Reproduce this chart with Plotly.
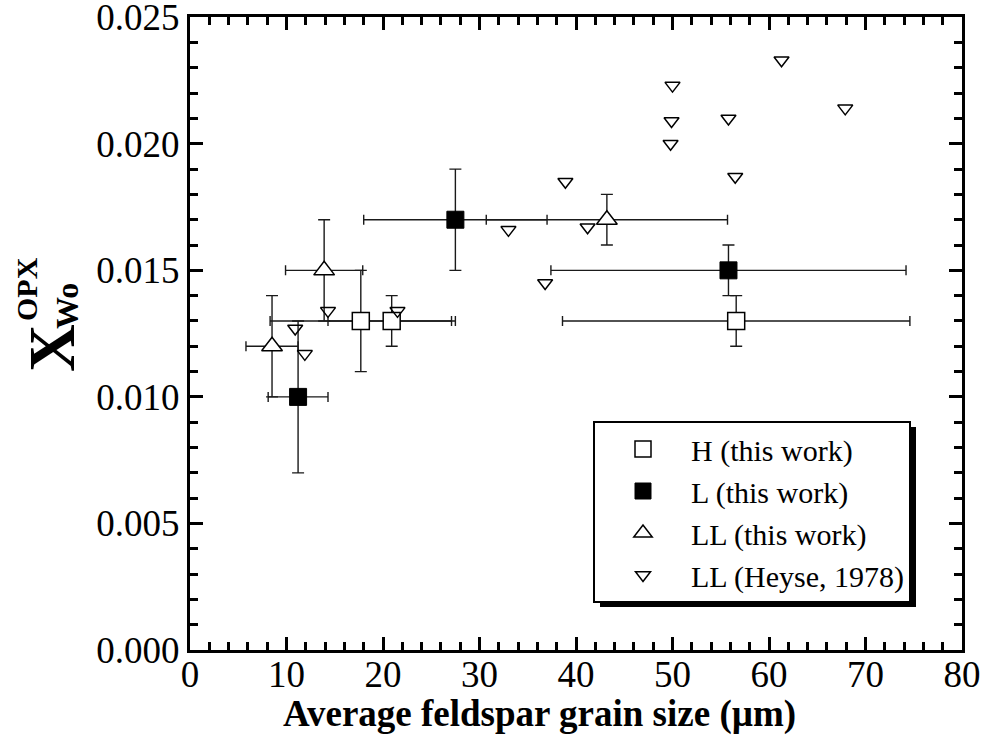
import plotly.graph_objects as go

# ---------------- data ----------------
h_x = [17.7, 20.9, 56.6]
h_y = [0.013, 0.013, 0.013]
h_xerr = [9.4, 6.6, 18.0]
h_yerr = [0.002, 0.001, 0.001]

l_x = [11.2, 27.5, 55.8]
l_y = [0.010, 0.017, 0.015]
l_xerr = [3.1, 9.5, 18.4]
l_yerr = [0.003, 0.002, 0.001]

ll_x = [8.5, 13.9, 43.2]
ll_y = [0.012, 0.015, 0.017]
ll_xerr = [2.7, 4.0, 12.5]
ll_yerr = [0.002, 0.002, 0.001]

heyse_x = [10.9, 11.9, 14.3, 21.5, 33.0, 36.8, 38.9, 41.2, 49.8, 49.9, 50.0, 55.8, 56.5, 61.3, 67.9]
heyse_y = [0.0127, 0.0117, 0.0134, 0.0134, 0.0166, 0.0145, 0.0185, 0.0167, 0.0200, 0.0209, 0.0223, 0.0210, 0.0187, 0.0233, 0.0214]

names = ["H (this work)", "L (this work)", "LL (this work)", "LL (Heyse, 1978)"]

x_range = [0, 80]
y_range = [0, 0.02501]

# ---------------- figure ----------------
SERIF = "Liberation Serif"
EC = "#1a1a1a"

fig = go.Figure()

def err_trace(xs, ys, xe, ye):
    return go.Scatter(
        x=xs, y=ys, mode="markers",
        marker=dict(size=1, opacity=0),
        error_x=dict(type="data", array=xe, visible=True, color=EC, thickness=1.4, width=5),
        error_y=dict(type="data", array=ye, visible=True, color=EC, thickness=1.4, width=6),
        showlegend=False, hoverinfo="skip",
    )

fig.add_trace(err_trace(h_x, h_y, h_xerr, h_yerr))
fig.add_trace(err_trace(l_x, l_y, l_xerr, l_yerr))
fig.add_trace(err_trace(ll_x, ll_y, ll_xerr, ll_yerr))

fig.add_trace(go.Scatter(
    x=h_x, y=h_y, mode="markers", name=names[0],
    marker=dict(symbol="square", size=17, color="white", line=dict(color="black", width=1.5)),
))
fig.add_trace(go.Scatter(
    x=l_x, y=l_y, mode="markers", name=names[1],
    marker=dict(symbol="square", size=17, color="black", line=dict(color="black", width=1)),
))
fig.add_trace(go.Scatter(
    x=ll_x, y=ll_y, mode="markers", name=names[2],
    marker=dict(symbol="triangle-up", size=18, color="white", line=dict(color="black", width=1.5)),
))
fig.add_trace(go.Scatter(
    x=heyse_x, y=heyse_y, mode="markers", name=names[3],
    marker=dict(symbol="triangle-down-open", size=13, color="black", line=dict(color="black", width=1.5)),
))

# invisible trace on the overlay (minor-tick) axes so they are drawn
fig.add_trace(go.Scatter(
    x=heyse_x, y=heyse_y, xaxis="x2", yaxis="y2", mode="markers",
    marker=dict(size=1, opacity=0), showlegend=False, hoverinfo="skip",
))

TICKFONT = dict(family=SERIF, size=37, color="black")

fig.update_layout(
    xaxis=dict(
        range=x_range, tickmode="linear", tick0=0, dtick=10,
        showline=True, linecolor="black", linewidth=3, mirror="ticks",
        ticks="inside", tickcolor="black", tickwidth=3, ticklen=13,
        minor=dict(ticks="inside", tickmode="linear", tick0=0, dtick=2,
                   ticklen=8, tickwidth=3, tickcolor="black"),
        showgrid=False, zeroline=False, automargin=False,
        tickfont=TICKFONT, ticklabelstandoff=-10, ticklabeloverflow="allow",
    ),
    yaxis=dict(
        range=y_range, tickmode="linear", tick0=0, dtick=0.005, tickformat=".3f",
        showline=True, linecolor="black", linewidth=3, mirror="ticks",
        ticks="inside", tickcolor="black", tickwidth=3, ticklen=13,
        minor=dict(ticks="inside", tickmode="linear", tick0=0, dtick=0.001,
                   ticklen=8, tickwidth=3, tickcolor="black"),
        showgrid=False, zeroline=False, automargin=False,
        tickfont=TICKFONT, ticklabeloverflow="allow",
    ),
    xaxis2=dict(
        overlaying="x", anchor="y2", side="bottom",
        range=x_range, tickmode="linear", tick0=0, dtick=2,
        showline=True, linecolor="black", linewidth=3, mirror="ticks",
        ticks="inside", tickcolor="black", tickwidth=3, ticklen=8,
        showticklabels=False, showgrid=False, zeroline=False, automargin=False,
    ),
    yaxis2=dict(
        overlaying="y", anchor="x2", side="left",
        range=y_range, tickmode="linear", tick0=0, dtick=0.001,
        showline=True, linecolor="black", linewidth=3, mirror="ticks",
        ticks="inside", tickcolor="black", tickwidth=3, ticklen=8,
        showticklabels=False, showgrid=False, zeroline=False, automargin=False,
    ),
)

# legend shadow (paper coords)
L, R, T, B = 190, 962, 17, 650
def px(xp):
    return (xp - L) / (R - L)
def py(yp):
    return (B - yp) / (B - T)

fig.add_shape(type="rect", xref="paper", yref="paper",
              x0=px(600), x1=px(916), y0=py(607), y1=py(427),
              fillcolor="black", line=dict(width=0), layer="above")

fig.update_layout(
    width=985, height=736,
    margin=dict(l=L, r=985 - R, t=T, b=736 - B, autoexpand=False),
    paper_bgcolor="white", plot_bgcolor="white",
    font=dict(family=SERIF, color="black"),
    legend=dict(
        x=px(593), y=py(421), xanchor="left", yanchor="top",
        bgcolor="white", bordercolor="black", borderwidth=2,
        font=dict(family=SERIF, size=30, color="black"),
        itemwidth=86,
    ),
    annotations=[
        dict(text="<b>Average feldspar grain size (µm)</b>", xref="paper", yref="paper",
             x=px(539), y=py(714), xanchor="center", yanchor="middle", showarrow=False,
             font=dict(family=SERIF, size=37, color="black")),
        dict(text="<b>X</b>", xref="paper", yref="paper", textangle=-90,
             x=px(51), y=py(348), xanchor="center", yanchor="middle", showarrow=False,
             font=dict(family=SERIF, size=66, color="black")),
        dict(text="<b>OPX</b>", xref="paper", yref="paper", textangle=-90,
             x=px(26), y=py(289), xanchor="center", yanchor="middle", showarrow=False,
             font=dict(family=SERIF, size=30, color="black")),
        dict(text="<b>Wo</b>", xref="paper", yref="paper", textangle=-90,
             x=px(67), y=py(306), xanchor="center", yanchor="middle", showarrow=False,
             font=dict(family=SERIF, size=32, color="black")),
    ],
)

fig.write_html("out.html")
